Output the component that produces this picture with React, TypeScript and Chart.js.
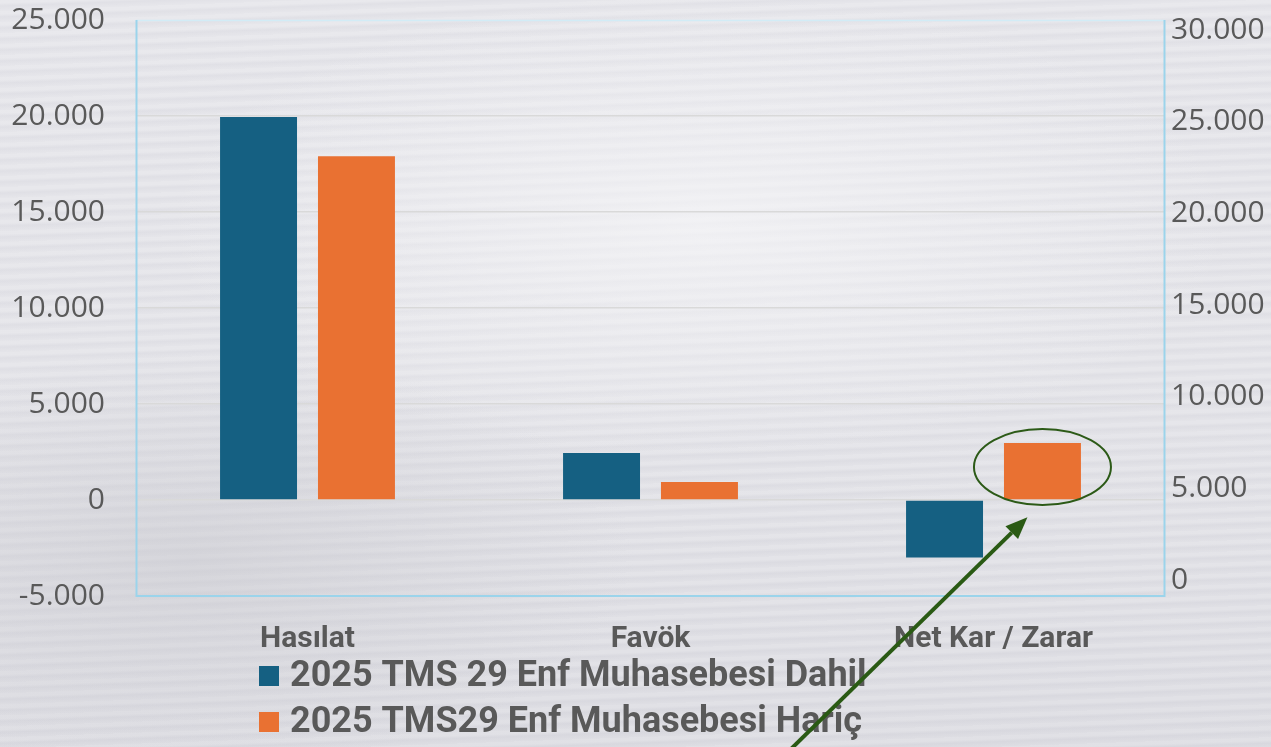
import React, { useEffect, useRef } from "react";
import { Chart, registerables } from "chart.js";

Chart.register(...registerables);

const categories = ["Hasılat", "Favök", "Net Kar / Zarar"];
const seriesNames = ["2025 TMS 29 Enf Muhasebesi Dahil", "2025 TMS29 Enf Muhasebesi Hariç"];
const dahilValues = [19950, 2450, -3000];
const haricValues = [17900, 940, 2970];
const seriesColors = ["#156082", "#E97132"];
const leftTicks = [-5000, 0, 5000, 10000, 15000, 20000, 25000];
const rightTicks = [0, 5000, 10000, 15000, 20000, 25000, 30000];
const rightRange = [-873, 30545];

const fmt = (v: number) => {
  const neg = v < 0;
  const s = Math.abs(Math.round(v)).toString().replace(/\B(?=(\d{3})+(?!\d))/g, ".");
  return (neg ? "-" : "") + s;
};

const TEXT = "#595959";

const framePlugin = {
  id: "frame",
  beforeDatasetsDraw(chart: any) {
    const { ctx, chartArea: a } = chart;
    ctx.save();
    ctx.lineWidth = 1.5;
    ctx.strokeStyle = "#d2ecf6";
    ctx.beginPath();
    ctx.moveTo(a.left, a.top + 0.5);
    ctx.lineTo(a.right, a.top + 0.5);
    ctx.stroke();
    ctx.strokeStyle = "#9bd4eb";
    ctx.lineWidth = 2;
    ctx.beginPath();
    ctx.moveTo(a.left + 0.5, a.top);
    ctx.lineTo(a.left + 0.5, a.bottom);
    ctx.lineTo(a.right - 0.5, a.bottom);
    ctx.lineTo(a.right - 0.5, a.top);
    ctx.stroke();
    ctx.restore();
  },
};

const legendPlugin = {
  id: "customLegend",
  afterDraw(chart: any) {
    const { ctx } = chart;
    ctx.save();
    ctx.font = "bold 36px Roboto, 'Noto Sans', sans-serif";
    ctx.textBaseline = "middle";
    ctx.textAlign = "left";
    chart.data.datasets.forEach((ds: any, i: number) => {
      const cy = 676 + i * 46;
      ctx.fillStyle = ds.backgroundColor;
      ctx.fillRect(259, cy - 10, 20, 20);
      ctx.fillStyle = TEXT;
      ctx.fillText(ds.label, 290, cy + 1);
    });
    ctx.restore();
  },
};

const annotationPlugin = {
  id: "calloutAnno",
  afterDraw(chart: any) {
    const { ctx } = chart;
    const bar: any = chart.getDatasetMeta(1).data[2];
    if (!bar) return;
    const cx = bar.x;
    const cy = (bar.y + bar.base) / 2 - 4;
    const rx = bar.width * 0.89;
    const ry = 38;
    ctx.save();
    ctx.strokeStyle = "#2c5a17";
    ctx.lineWidth = 2;
    ctx.beginPath();
    ctx.ellipse(cx, cy, rx, ry, 0, 0, Math.PI * 2);
    ctx.stroke();

    const tipX = cx - 15;
    const tipY = bar.base + 18;
    const sx = tipX - 250;
    const sy = tipY + 245;
    const ang = Math.atan2(tipY - sy, tipX - sx);
    const headLen = 22;
    const headW = 9;
    const bx = tipX - headLen * Math.cos(ang);
    const by = tipY - headLen * Math.sin(ang);
    ctx.strokeStyle = "#2a5a14";
    ctx.fillStyle = "#2a5a14";
    ctx.lineWidth = 4;
    ctx.beginPath();
    ctx.moveTo(sx, sy);
    ctx.lineTo(bx, by);
    ctx.stroke();
    ctx.beginPath();
    ctx.moveTo(tipX, tipY);
    ctx.lineTo(bx + headW * Math.sin(ang), by - headW * Math.cos(ang));
    ctx.lineTo(bx - headW * Math.sin(ang), by + headW * Math.cos(ang));
    ctx.closePath();
    ctx.fill();
    ctx.restore();
  },
};

export default function App() {
  const ref = useRef<HTMLCanvasElement>(null);
  useEffect(() => {
    if (!ref.current) return;
    const chart = new Chart(ref.current, {
      type: "bar",
      data: {
        labels: categories,
        datasets: [
          {
            label: seriesNames[0],
            data: dahilValues,
            backgroundColor: seriesColors[0],
            yAxisID: "y",
            barPercentage: 0.786,
            categoryPercentage: 0.571,
          },
          {
            label: seriesNames[1],
            data: haricValues,
            backgroundColor: seriesColors[1],
            yAxisID: "y",
            barPercentage: 0.786,
            categoryPercentage: 0.571,
          },
        ],
      },
      options: {
        responsive: false,
        animation: false,
        layout: { padding: { top: 20, left: 0, right: 0, bottom: 0 } },
        plugins: { legend: { display: false }, tooltip: { enabled: false } },
        scales: {
          x: {
            grid: { display: false, drawTicks: false },
            border: { display: false },
            ticks: {
              color: TEXT,
              padding: 25,
              font: { family: "Roboto, 'Noto Sans', sans-serif", size: 30, weight: "bold" },
            },
            afterFit(scale: any) {
              scale.height = 151;
              scale.paddingLeft = 0;
              scale.paddingRight = 0;
            },
          },
          y: {
            position: "left",
            min: leftTicks[0],
            max: leftTicks[leftTicks.length - 1],
            afterBuildTicks(scale: any) {
              scale.ticks = leftTicks.map((v) => ({ value: v }));
            },
            grid: {
              color: (c: any) =>
                c.tick && (c.tick.value === leftTicks[0] || c.tick.value === leftTicks[leftTicks.length - 1])
                  ? "rgba(0,0,0,0)"
                  : "#d9d9d9",
              lineWidth: 1.5,
              drawTicks: false,
            },
            border: { display: false },
            ticks: {
              color: TEXT,
              padding: 31,
              font: { family: "'Open Sans', sans-serif", size: 30 },
              callback: (v: any) => fmt(Number(v)),
            },
            afterFit(scale: any) {
              scale.width = 136;
              scale.paddingTop = 0;
              scale.paddingBottom = 0;
            },
          },
          y2: {
            position: "right",
            display: true,
            min: rightRange[0],
            max: rightRange[1],
            afterBuildTicks(scale: any) {
              scale.ticks = rightTicks.map((v) => ({ value: v }));
            },
            grid: { display: false, drawTicks: false },
            border: { display: false },
            ticks: {
              color: TEXT,
              padding: 6,
              font: { family: "'Open Sans', sans-serif", size: 30 },
              callback: (v: any) => fmt(Number(v)),
            },
            afterFit(scale: any) {
              scale.width = 106;
              scale.paddingTop = 0;
              scale.paddingBottom = 0;
            },
          },
        },
      } as any,
      plugins: [framePlugin, legendPlugin, annotationPlugin],
    });
    return () => chart.destroy();
  }, []);

  return (
    <div
      style={{
        position: "fixed",
        left: 0,
        top: 0,
        width: 1271,
        height: 747,
        overflow: "hidden",
        background:
          "radial-gradient(ellipse 60% 45% at 55% 30%, rgba(246,246,248,0.7), rgba(246,246,248,0) 70%)," +
          "radial-gradient(ellipse 50% 40% at 15% 75%, rgba(200,200,206,0.5), rgba(200,200,206,0) 70%)," +
          "repeating-linear-gradient(178deg, rgba(255,255,255,0.18) 0px, rgba(255,255,255,0.18) 3px, rgba(200,200,210,0.12) 6px, rgba(255,255,255,0.1) 11px)," +
          "linear-gradient(180deg, #e4e4e9 0%, #e2e2e7 50%, #dadae0 100%)",
      }}
    >
      <canvas ref={ref} width={1271} height={747} style={{ display: "block" }} />
    </div>
  );
}
